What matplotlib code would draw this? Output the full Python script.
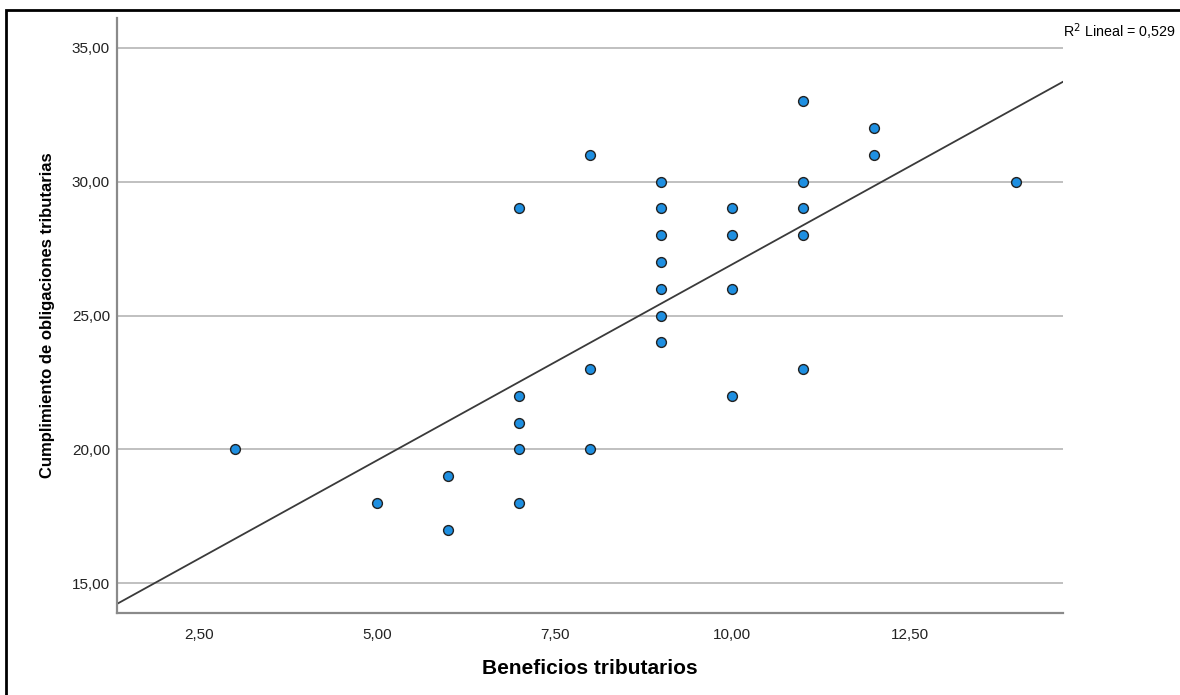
import numpy as np
import matplotlib
matplotlib.use('Agg')
import matplotlib.pyplot as plt
from matplotlib.patches import Rectangle
from matplotlib.ticker import FuncFormatter

plt.rcParams['font.family'] = ['Liberation Sans', 'DejaVu Sans']

# data
beneficios = [3, 5, 6, 6, 7, 7, 7, 7, 7, 8, 8, 8,
              9, 9, 9, 9, 9, 9, 9, 10, 10, 10, 10,
              11, 11, 11, 11, 11, 12, 12, 14]
cumplimiento = [20, 18, 19, 17, 29, 22, 21, 20, 18, 31, 23, 20,
                30, 29, 28, 27, 26, 25, 24, 29, 28, 26, 22,
                33, 30, 29, 28, 23, 32, 31, 30]
fit_intercept = 12.26
fit_slope = 1.465
r2_label = 'R$^2$ Lineal = 0,529'
x_ticks = [2.5, 5.0, 7.5, 10.0, 12.5]
y_ticks = [15, 20, 25, 30, 35]

def comma(v, pos):
    return f'{v:.2f}'.replace('.', ',')

fig = plt.figure(figsize=(11.8, 6.95), dpi=100)
ax = fig.add_axes([117/1180, 82/695, 946/1180, 595/695])

xlo, xhi = 1.338, 14.66
ylo, yhi = 13.88, 36.12
ax.set_xlim(xlo, xhi)
ax.set_ylim(ylo, yhi)

for yv in y_ticks:
    ax.axhline(yv, color='#b5b5b5', lw=1.2, zorder=1)

xs = np.array([xlo, xhi])
ax.plot(xs, fit_intercept + fit_slope * xs, color='#3a3a3a', lw=1.3, zorder=2)

ax.scatter(beneficios, cumplimiento, s=50, color='#1e8fe1',
           edgecolors='#222222', linewidths=1.0, zorder=3)

ax.set_xticks(x_ticks)
ax.set_yticks(y_ticks)
ax.xaxis.set_major_formatter(FuncFormatter(comma))
ax.yaxis.set_major_formatter(FuncFormatter(comma))
ax.tick_params(length=0, labelsize=11, colors='#222222')
ax.tick_params(axis='x', pad=11)
ax.tick_params(axis='y', pad=5)

for s in ['top', 'right']:
    ax.spines[s].set_visible(False)
for s in ['left', 'bottom']:
    ax.spines[s].set_color('#8a8a8a')
    ax.spines[s].set_linewidth(1.6)

ax.set_xlabel('Beneficios tributarios', fontsize=15, fontweight='bold', labelpad=12)
ax.set_ylabel('Cumplimiento de obligaciones tributarias', fontsize=12, fontweight='bold', labelpad=12)

fig.text(1063/1180, 1 - 32/695, r2_label, fontsize=10.3, va='center', ha='left')

fig.patches.append(Rectangle((6/1180, -0.2), 2, 1.2 - 10/695,
                             transform=fig.transFigure, fill=False,
                             edgecolor='black', lw=2, clip_on=False))

fig.savefig('out.png', dpi=100)
